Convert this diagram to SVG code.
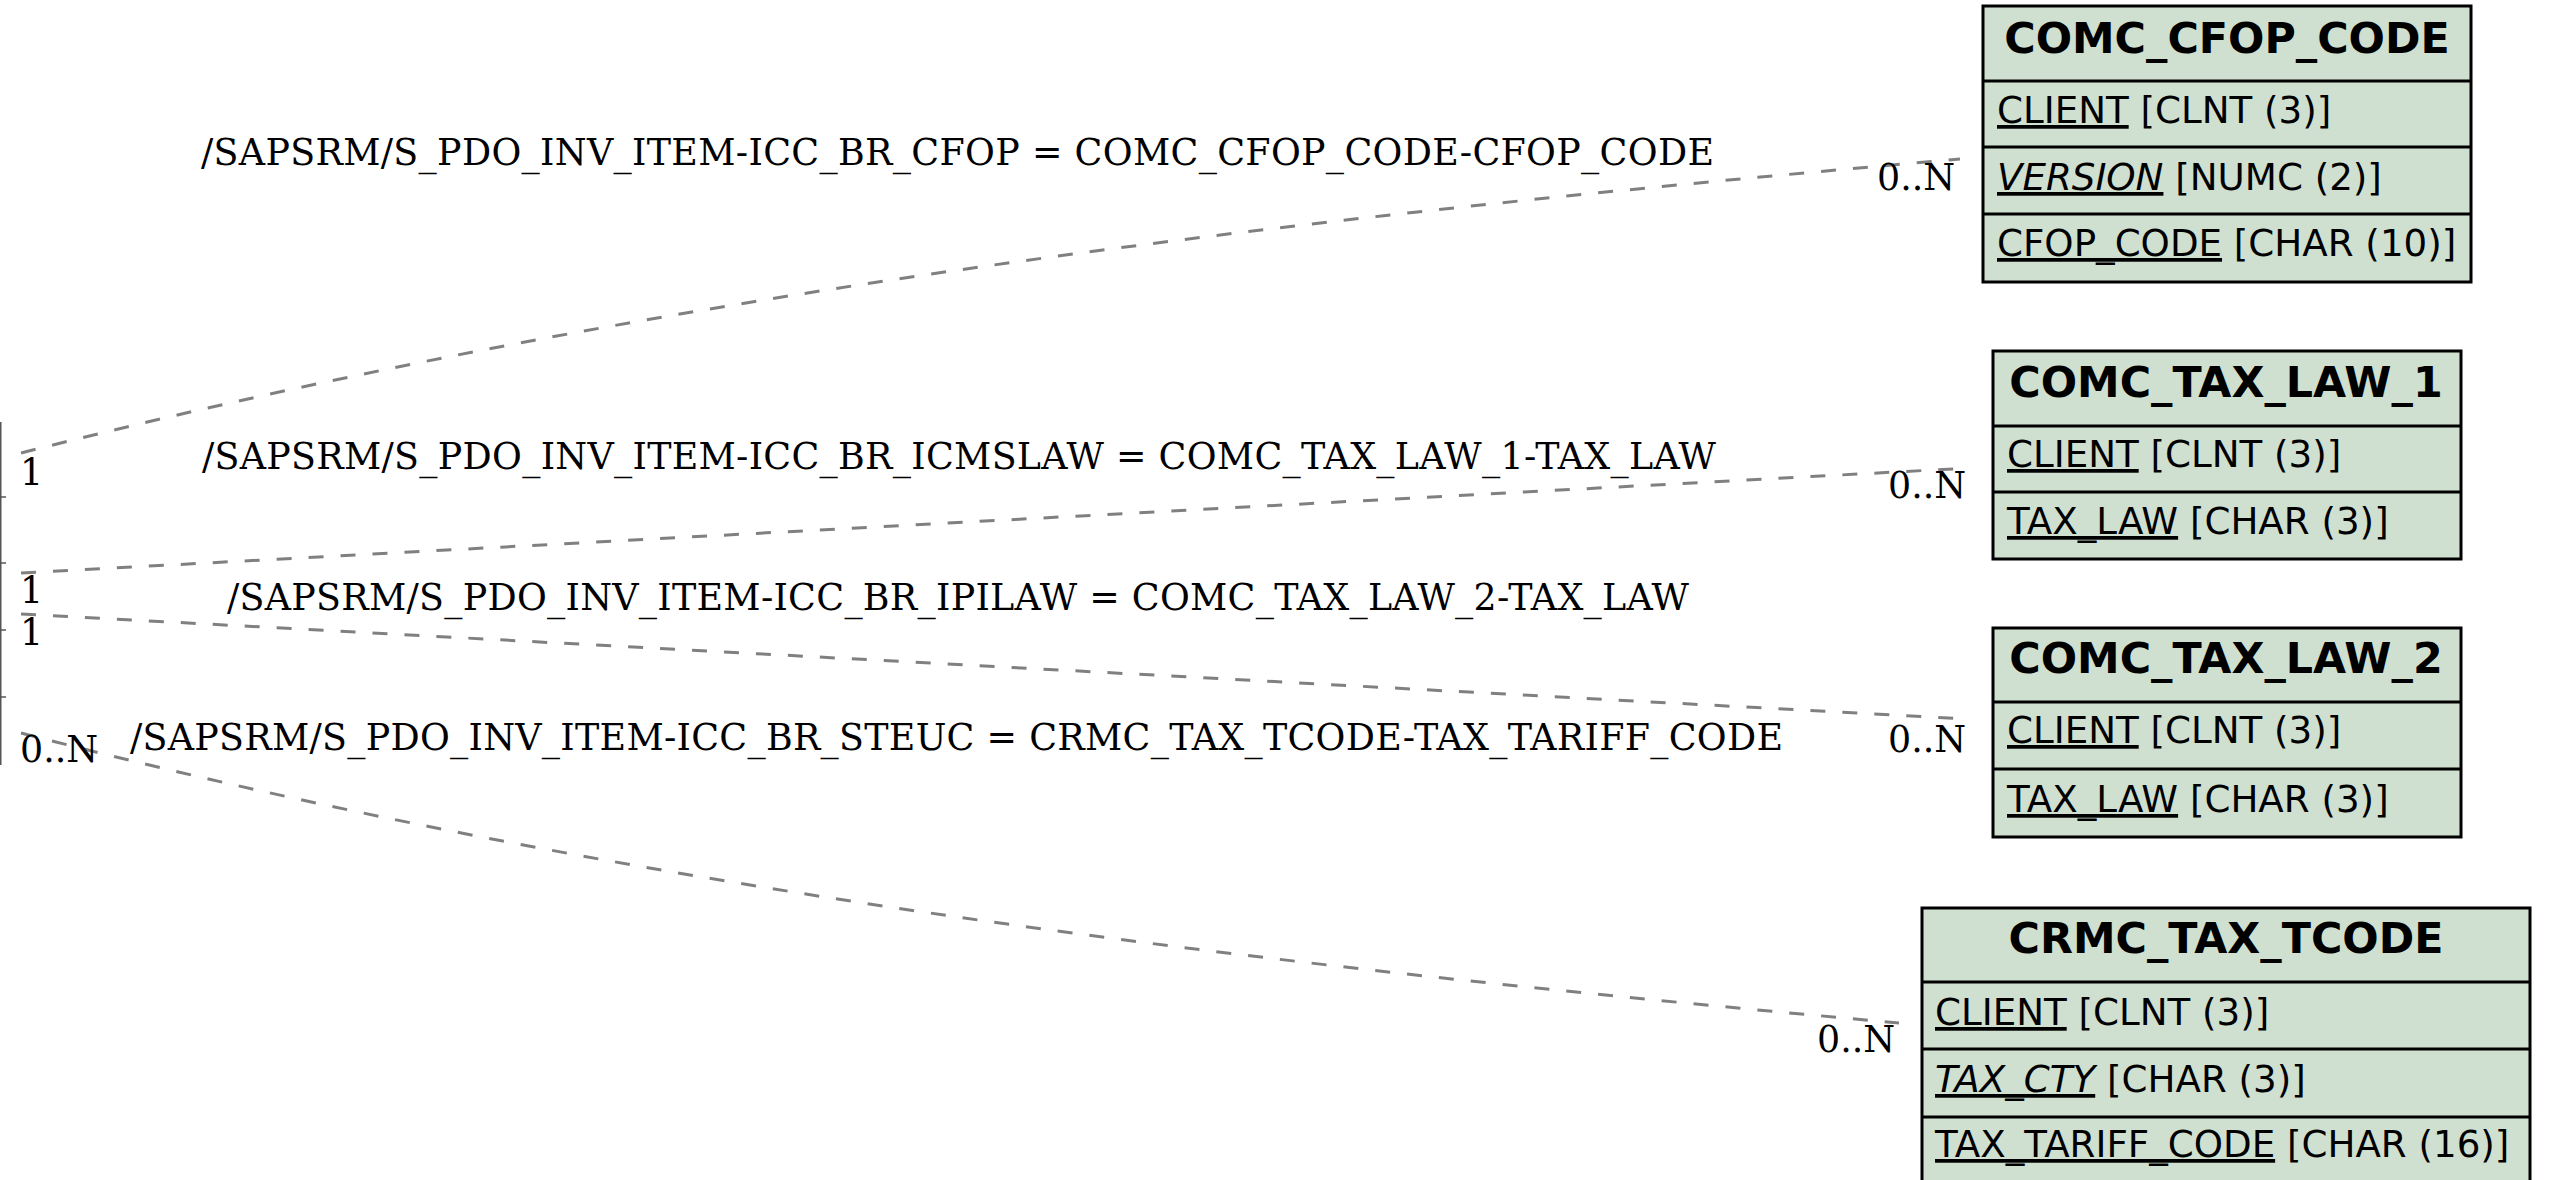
<svg xmlns="http://www.w3.org/2000/svg" width="2551" height="1180" viewBox="0 0 2551 1180">
<style>
.box{fill:#d0e0d0;stroke:#000;stroke-width:3}
.sep{stroke:#000;stroke-width:3}
.part{fill:none;stroke:#555;stroke-width:1.5}
.hd{font-family:"DejaVu Sans",sans-serif;font-weight:bold;font-size:42.8px;fill:#000;text-anchor:middle}
.fd{font-family:"DejaVu Sans",sans-serif;font-size:37.2px;fill:#000}
.u{text-decoration:underline}
.i{font-style:italic}
.lbl{font-family:"DejaVu Serif",serif;font-size:36.4px;fill:#000}
.edge{fill:none;stroke:#808080;stroke-width:3;stroke-dasharray:15,17}
</style>
<rect width="2551" height="1180" fill="#fff"/>
<g id="src_partial">
<path class="part" d="M0.75,422 V765 M0,497 H6 M0,563 H6 M0,630 H6 M0,697 H6"/>
</g>
<g id="connectors">
<path class="edge" d="M21,453 C671,288 1309,216 1960,159"/>
<path class="edge" d="M21,573 L1970,468"/>
<path class="edge" d="M21,614 L1968,719"/>
<path class="edge" d="M21,733 C641,894 1279,967 1899,1023"/>
<text class="lbl" x="201" y="165" textLength="1513">/SAPSRM/S_PDO_INV_ITEM-ICC_BR_CFOP = COMC_CFOP_CODE-CFOP_CODE</text>
<text class="lbl" x="202" y="469" textLength="1514">/SAPSRM/S_PDO_INV_ITEM-ICC_BR_ICMSLAW = COMC_TAX_LAW_1-TAX_LAW</text>
<text class="lbl" x="227" y="610" textLength="1462">/SAPSRM/S_PDO_INV_ITEM-ICC_BR_IPILAW = COMC_TAX_LAW_2-TAX_LAW</text>
<text class="lbl" x="130" y="750" textLength="1653">/SAPSRM/S_PDO_INV_ITEM-ICC_BR_STEUC = CRMC_TAX_TCODE-TAX_TARIFF_CODE</text>
<text class="lbl" x="20" y="485">1</text>
<text class="lbl" x="20" y="603">1</text>
<text class="lbl" x="20" y="645">1</text>
<text class="lbl" x="20" y="762">0..N</text>
<text class="lbl" x="1877" y="190">0..N</text>
<text class="lbl" x="1888" y="498">0..N</text>
<text class="lbl" x="1888" y="752">0..N</text>
<text class="lbl" x="1817" y="1052">0..N</text>
</g>
<g id="COMC_CFOP_CODE">
<rect class="box" x="1983" y="6" width="488" height="276"/>
<line class="sep" x1="1983" y1="81" x2="2471" y2="81"/>
<line class="sep" x1="1983" y1="147" x2="2471" y2="147"/>
<line class="sep" x1="1983" y1="214" x2="2471" y2="214"/>
<text class="hd" x="2227" y="53">COMC_CFOP_CODE</text>
<text class="fd" x="1997" y="123"><tspan class="u">CLIENT</tspan> [CLNT (3)]</text>
<text class="fd" x="1997" y="190"><tspan class="u i">VERSION</tspan> [NUMC (2)]</text>
<text class="fd" x="1997" y="256"><tspan class="u">CFOP_CODE</tspan> [CHAR (10)]</text>
</g>
<g id="COMC_TAX_LAW_1">
<rect class="box" x="1993" y="351" width="468" height="208"/>
<line class="sep" x1="1993" y1="426" x2="2461" y2="426"/>
<line class="sep" x1="1993" y1="492" x2="2461" y2="492"/>
<text class="hd" x="2226" y="397">COMC_TAX_LAW_1</text>
<text class="fd" x="2007" y="467"><tspan class="u">CLIENT</tspan> [CLNT (3)]</text>
<text class="fd" x="2007" y="534"><tspan class="u">TAX_LAW</tspan> [CHAR (3)]</text>
</g>
<g id="COMC_TAX_LAW_2">
<rect class="box" x="1993" y="628" width="468" height="209"/>
<line class="sep" x1="1993" y1="702" x2="2461" y2="702"/>
<line class="sep" x1="1993" y1="769" x2="2461" y2="769"/>
<text class="hd" x="2226" y="673">COMC_TAX_LAW_2</text>
<text class="fd" x="2007" y="743"><tspan class="u">CLIENT</tspan> [CLNT (3)]</text>
<text class="fd" x="2007" y="812"><tspan class="u">TAX_LAW</tspan> [CHAR (3)]</text>
</g>
<g id="CRMC_TAX_TCODE">
<rect class="box" x="1922" y="908" width="608" height="276"/>
<line class="sep" x1="1922" y1="982" x2="2530" y2="982"/>
<line class="sep" x1="1922" y1="1049" x2="2530" y2="1049"/>
<line class="sep" x1="1922" y1="1117" x2="2530" y2="1117"/>
<text class="hd" x="2226" y="953">CRMC_TAX_TCODE</text>
<text class="fd" x="1935" y="1025"><tspan class="u">CLIENT</tspan> [CLNT (3)]</text>
<text class="fd" x="1935" y="1092"><tspan class="u i">TAX_CTY</tspan> [CHAR (3)]</text>
<text class="fd" x="1935" y="1157"><tspan class="u">TAX_TARIFF_CODE</tspan> [CHAR (16)]</text>
</g>
</svg>
